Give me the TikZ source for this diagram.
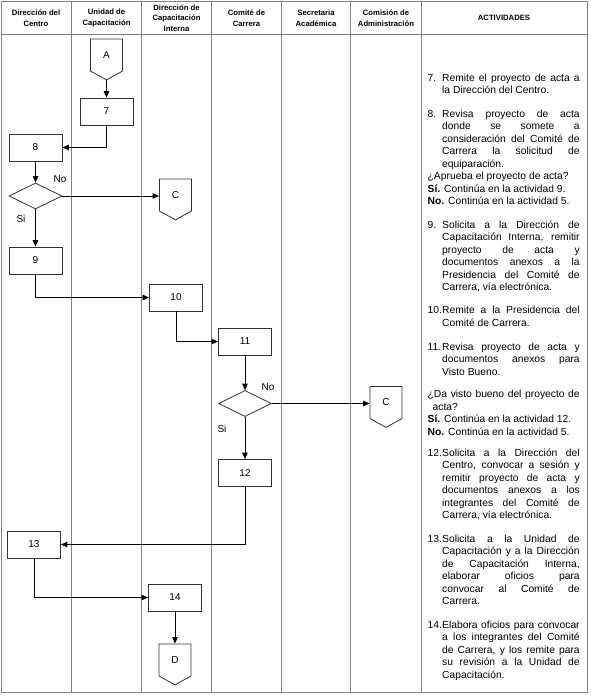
\documentclass[tikz,border=0pt]{standalone}
\usepackage{fontspec}
\setmainfont{Liberation Sans}
\usetikzlibrary{shapes.geometric,shapes.symbols,arrows.meta}
\newcommand{\numact}[1]{\noindent\strut\makebox[14.5pt][l]{#1}}
\newcommand{\sigue}{\linebreak\hspace*{14.5pt}}

\begin{document}
\begin{tikzpicture}[x=1pt,y=-1pt,
	tabla/.style={draw=black!50,line width=0.7pt},
	titulo/.style={font=\bfseries\fontsize{7.7}{10.5}\selectfont,align=center,inner sep=0pt},
	caja/.style={draw=black!80,line width=0.8pt,minimum width=53pt,minimum height=27pt,inner sep=0pt,font=\fontsize{10}{12}\selectfont},
	decision/.style={diamond,draw=black!80,line width=0.8pt,minimum width=53pt,minimum height=26pt,inner sep=0pt},
	conector/.style={signal,signal to=south,signal pointer angle=122,draw=black!80,line width=0.8pt,minimum width=32pt,minimum height=34pt,inner sep=0pt,font=\fontsize{10}{12}\selectfont},
	flecha/.style={-{Triangle[length=6.5pt,width=5.5pt]},line width=0.9pt},
	etiq/.style={font=\fontsize{10}{12}\selectfont,inner sep=0pt},
	actv/.style={anchor=north west,inner sep=0pt,text width=152pt,align=justify,font=\fontsize{10.3}{12.5}\selectfont}]
	\useasboundingbox (0,0) rectangle (590,696);
	% tabla
	\draw[tabla] (1,1) rectangle (587,692);
	\draw[tabla] (1,34) -- (587,34);
	\foreach \x in {71.5,141.5,211.5,281.5,350.5,421.5}
		\draw[tabla] (\x,1) -- (\x,692);
	\node[titulo] (h1) at (36,18) {Dirección del\\Centro};
	\node[titulo] (h2) at (106.5,18) {Unidad de\\Capacitación};
	\node[titulo] (h3) at (176.5,18) {Dirección de\\Capacitación\\Interna};
	\node[titulo] (h4) at (246.5,18) {Comité de\\Carrera};
	\node[titulo] (h5) at (316,18) {Secretaria\\Académica};
	\node[titulo] (h6) at (386,18) {Comisión de\\Administración};
	\node[titulo] (h7) at (504,18) {ACTIVIDADES};
	% diagrama
	\node[conector] (cA) at (106.5,55) {A};
	\node[caja] (b7) at (106.5,111.5) {7};
	\node[caja] (b8) at (35.5,147.5) {8};
	\node[decision] (d1) at (35.5,196) {};
	\node[conector] (c1) at (175.5,195) {C};
	\node[caja] (b9) at (35.5,260.5) {9};
	\node[caja] (b10) at (176,297.5) {10};
	\node[caja] (b11) at (245,341.5) {11};
	\node[decision] (d2) at (245,403.5) {};
	\node[conector] (c2) at (386,402.5) {C};
	\node[caja] (b12) at (245,473) {12};
	\node[caja] (b13) at (34,544.5) {13};
	\node[caja] (b14) at (175,597.5) {14};
	\node[conector] (cD) at (175,660) {D};
	\node[etiq] (no1) at (60,179) {No};
	\node[etiq] (si1) at (21,219) {Si};
	\node[etiq] (no2) at (268,387) {No};
	\node[etiq] (si2) at (222,429) {Si};
	\draw[flecha] (cA.south) -- (b7.north);
	\draw[flecha] (b7.south) |- (b8.east);
	\draw[flecha] (b8) -- (d1);
	\draw[flecha] (d1.east) -- (d1.east -| c1.west);
	\draw[flecha] (d1) -- (b9);
	\draw[flecha] (b9.south) |- (b10.west);
	\draw[flecha] (b10.south) |- (b11.west);
	\draw[flecha] (b11) -- (d2);
	\draw[flecha] (d2.east) -- (d2.east -| c2.west);
	\draw[flecha] (d2) -- (b12);
	\draw[flecha] (b12.south) |- (b13.east);
	\draw[flecha] (b13.south) |- (b14.west);
	\draw[flecha] (b14.south) -- (cD.north);
	% actividades
	\node[actv] (t7) at (427.5,72.3) {\numact{7.}Remite el proyecto de acta a\sigue la Dirección del Centro.};
	\node[actv] (t8) at (427.5,108.3) {\numact{8.}Revisa proyecto de acta\sigue donde se somete a\sigue consideración del Comité de\sigue Carrera la solicitud de\sigue equiparación.\par
		\noindent ¿Aprueba el proyecto de acta?\par
		\noindent\textbf{Sí.} Continúa en la actividad 9.\par
		\noindent\textbf{No.} Continúa en la actividad 5.};
	\node[actv] (t9) at (427.5,219.3) {\numact{9.}Solicita a la Dirección de\sigue Capacitación Interna, remitir\sigue proyecto de acta y\sigue documentos anexos a la\sigue Presidencia del Comité de\sigue Carrera, vía electrónica.};
	\node[actv] (t10) at (427.5,304.8) {\numact{10.}Remite a la Presidencia del\sigue Comité de Carrera.};
	\node[actv] (t11) at (427.5,341.3) {\numact{11.}Revisa proyecto de acta y\sigue documentos anexos para\sigue Visto Bueno.};
	\node[actv] (tda) at (427.5,388.8) {\noindent\strut ¿Da visto bueno del proyecto de\linebreak\hspace*{5pt}acta?\par
		\noindent\textbf{Sí.} Continúa en la actividad 12.\par
		\noindent\textbf{No.} Continúa en la actividad 5.};
	\node[actv] (t12) at (427.5,447.3) {\numact{12.}Solicita a la Dirección del\sigue Centro, convocar a sesión y\sigue remitir proyecto de acta y\sigue documentos anexos a los\sigue integrantes del Comité de\sigue Carrera, vía electrónica.};
	\node[actv] (t13) at (427.5,533.3) {\numact{13.}Solicita a la Unidad de\sigue Capacitación y a la Dirección\sigue de Capacitación Interna,\sigue elaborar oficios para\sigue convocar al Comité de\sigue Carrera.};
	\node[actv] (t14) at (427.5,619.3) {\numact{14.}Elabora oficios para convocar\sigue a los integrantes del Comité\sigue de Carrera, y los remite para\sigue su revisión a la Unidad de\sigue Capacitación.};
\end{tikzpicture}
\end{document}
